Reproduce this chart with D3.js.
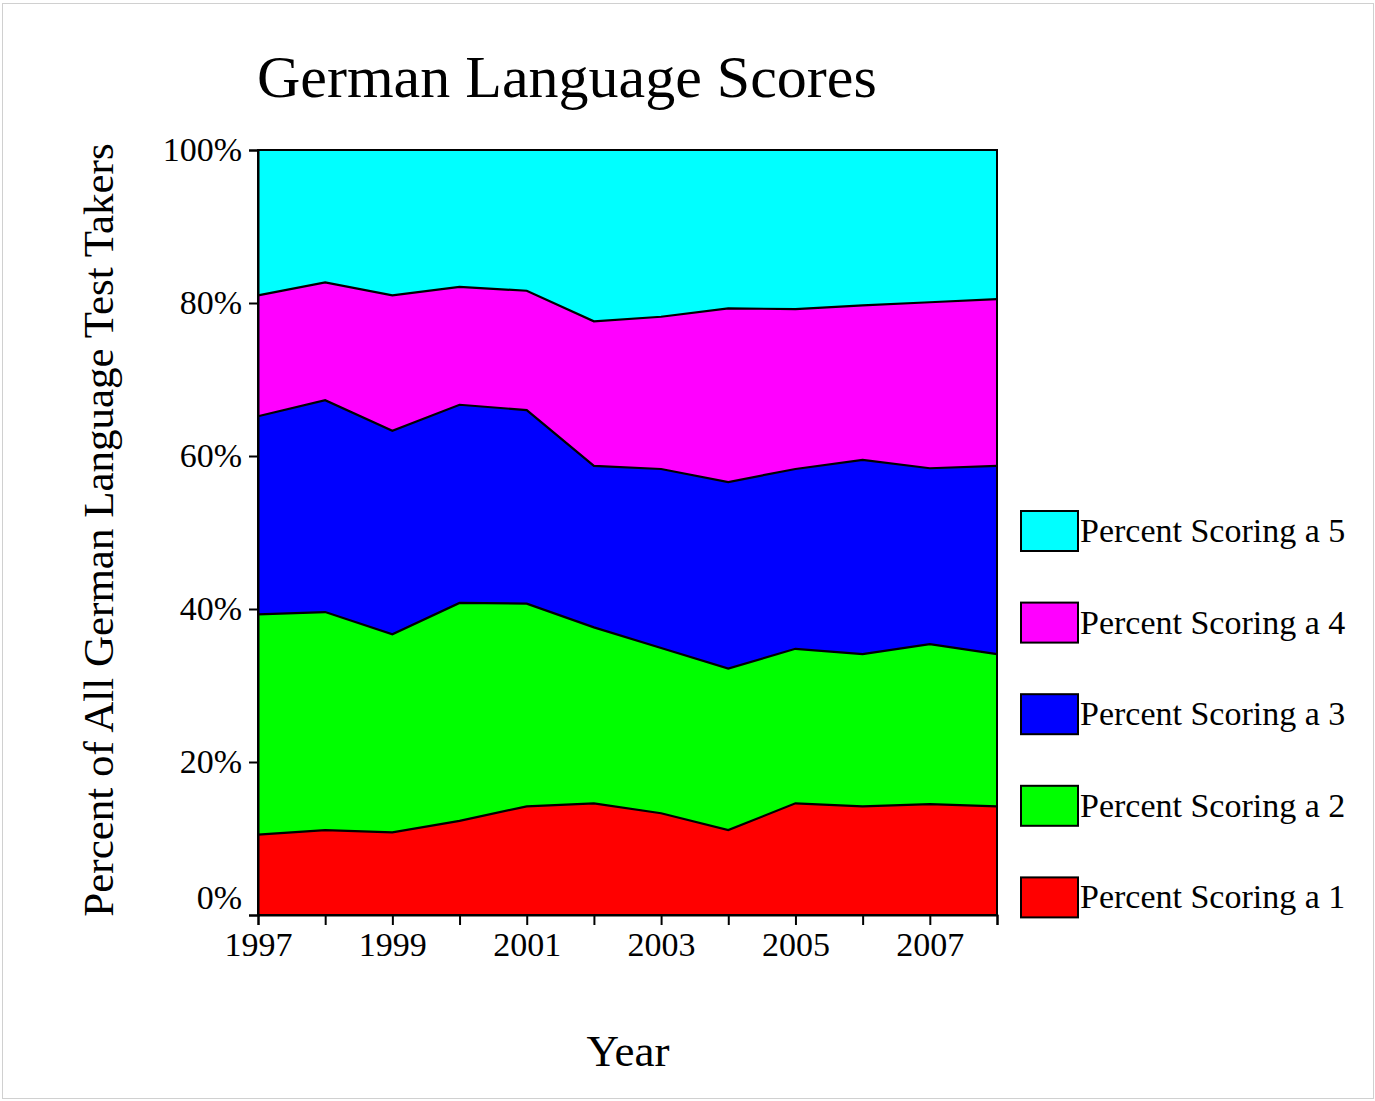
<!DOCTYPE html>
<html>
<head>
<meta charset="utf-8">
<script src="https://cdn.jsdelivr.net/npm/d3@7"></script>
<style>
  body { margin: 0; background: #fff; }
  text { font-family: "Liberation Serif", "Times New Roman", serif; fill: #000; }
</style>
</head>
<body>
<svg id="chart" width="1375" height="1101"></svg>
<script>
var years = [1997, 1998, 1999, 2000, 2001, 2002, 2003, 2004, 2005, 2006, 2007, 2008];

// percent of test takers per score
var score1 = [10.5, 11.1, 10.8, 12.3, 14.2, 14.6, 13.3, 11.1, 14.6, 14.2, 14.5, 14.2];
var score2 = [28.8, 28.5, 25.9, 28.5, 26.5, 23.0, 21.6, 21.1, 20.2, 19.9, 20.9, 19.9];
var score3 = [25.9, 27.7, 26.6, 25.9, 25.3, 21.1, 23.4, 24.4, 23.5, 25.4, 23.0, 24.6];
var score4 = [15.8, 15.4, 17.7, 15.4, 15.6, 18.9, 19.9, 22.7, 20.9, 20.2, 21.7, 21.8];
var score5 = [19.0, 17.3, 19.0, 17.9, 18.4, 22.4, 21.8, 20.7, 20.8, 20.3, 19.9, 19.5];

var seriesNames = ["Percent Scoring a 1", "Percent Scoring a 2", "Percent Scoring a 3",
                   "Percent Scoring a 4", "Percent Scoring a 5"];
var colors = ["#ff0000", "#00ff00", "#0000ff", "#ff00ff", "#00ffff"];
var yTicks = [0, 20, 40, 60, 80, 100];
var xLabelYears = [1997, 1999, 2001, 2003, 2005, 2007];

var all = [score1, score2, score3, score4, score5];
var table = years.map(function (y, i) {
  var row = { year: y };
  seriesNames.forEach(function (n, k) { row[n] = all[k][i]; });
  return row;
});

var pLeft = 258, pRight = 997, pTop = 150, pBottom = 915;

var svg = d3.select("#chart");

// faint outer frame
svg.append("rect").attr("x", 2.5).attr("y", 3.5).attr("width", 1371).attr("height", 1095)
  .attr("fill", "none").attr("stroke", "#d0d0d0");

var x = d3.scaleLinear().domain([1997, 2008]).range([pLeft, pRight]);
var y = d3.scaleLinear().domain([0, 100]).range([pBottom, pTop]);

var stack = d3.stack().keys(seriesNames);
var layers = stack(table);

var area = d3.area()
  .x(function (d) { return x(d.data.year); })
  .y0(function (d) { return y(d[0]); })
  .y1(function (d) { return y(d[1]); });

var line = d3.line()
  .x(function (d) { return x(d.data.year); })
  .y(function (d) { return y(d[1]); });

svg.append("g").selectAll("path")
  .data(layers)
  .enter().append("path")
  .attr("d", area)
  .attr("fill", function (d, i) { return colors[i]; });

svg.append("g").selectAll("path")
  .data(layers.slice(0, 4))
  .enter().append("path")
  .attr("d", line)
  .attr("fill", "none")
  .attr("stroke", "#000")
  .attr("stroke-width", 2.2);

// frame of the plot
svg.append("rect").attr("x", pLeft).attr("y", pTop).attr("width", pRight - pLeft).attr("height", pBottom - pTop)
  .attr("fill", "none").attr("stroke", "#000").attr("stroke-width", 2);

// y axis
var yAxis = svg.append("g").attr("transform", "translate(" + pLeft + ",0)")
  .call(d3.axisLeft(y).tickValues(yTicks).tickSize(9).tickPadding(7)
    .tickFormat(function (d) { return d + "%"; }));
yAxis.select(".domain").attr("stroke-width", 2);
yAxis.selectAll(".tick line").attr("stroke-width", 2);
yAxis.selectAll(".tick text")
  .style("font-family", "Liberation Serif, serif").style("font-size", "34px")
  .attr("dy", function (d) { return d === 0 ? "-0.2em" : "0.3em"; });

// x axis
var xAxis = svg.append("g").attr("transform", "translate(0," + pBottom + ")")
  .call(d3.axisBottom(x).tickValues(years).tickSize(10).tickPadding(7)
    .tickFormat(function (d) { return xLabelYears.indexOf(d) >= 0 ? d : ""; }));
xAxis.select(".domain").attr("stroke-width", 2);
xAxis.selectAll(".tick line").attr("stroke-width", 2);
xAxis.selectAll(".tick text")
  .style("font-family", "Liberation Serif, serif").style("font-size", "34px");

// titles
svg.append("text").attr("x", 257).attr("y", 97)
  .style("font-size", "60px").text("German Language Scores");

svg.append("text").attr("x", 628).attr("y", 1066).attr("text-anchor", "middle")
  .style("font-size", "45px").text("Year");

svg.append("text")
  .attr("transform", "translate(113,530) rotate(-90)")
  .attr("text-anchor", "middle")
  .style("font-size", "43px")
  .text("Percent of All German Language Test Takers");

// legend, top entry is score 5
var legend = svg.append("g").selectAll("g")
  .data(seriesNames.slice().reverse())
  .enter().append("g")
  .attr("transform", function (d, i) { return "translate(1021," + (511 + i * 91.6) + ")"; });

legend.append("rect").attr("width", 57).attr("height", 40)
  .attr("fill", function (d, i) { return colors[4 - i]; })
  .attr("stroke", "#000").attr("stroke-width", 2);

legend.append("text").attr("x", 59).attr("y", 31)
  .style("font-size", "34px").text(function (d) { return d; });
</script>
</body>
</html>
